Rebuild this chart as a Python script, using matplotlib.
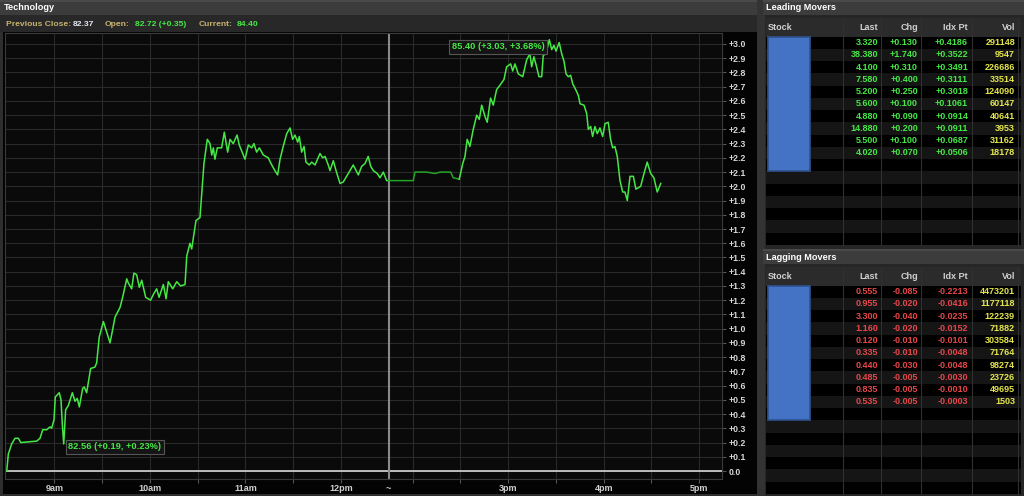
import matplotlib
matplotlib.use('Agg')
import matplotlib.pyplot as plt
from matplotlib.patches import Rectangle
import numpy as np

plt.rcParams['font.family'] = ['Liberation Sans', 'DejaVu Sans']
plt.rcParams['font.weight'] = 'bold'

# ---- data ----
prev_close = 82.37
open_price = 82.72
current = 84.40
hi_price = 85.40
lo_price = 82.56

# x = minutes since 8:30 on a compressed axis (12:30-1:45 is cut out)
morning_t = [0, 1.0, 3.1, 5.2, 7.3, 8.8, 18.8, 20.9, 22.6, 25.1, 27.2, 28.2, 29.7, 30.5, 33.0,
             34.1, 34.9, 35.8, 37.0, 38.7, 41.2, 42.9, 44.3, 45.6, 47.7, 48.7, 50.2, 52.7, 55.4,
             56.5, 58.1, 60.7, 62.4, 64.9, 66.3, 68.0, 71.2, 72.8, 75.4, 76.4, 78.5, 79.9, 81.6,
             83.3, 84.8, 87.3, 90.4, 92.1, 94.2, 95.7, 98.4, 100.1, 101.5, 104.3, 106.8, 109.3,
             112.0, 113.1, 115.1, 116.2, 118.9, 121.4, 123.9, 126.0, 127.7, 128.8, 129.8, 130.8,
             132.3, 135.0, 136.7, 138.8, 140.3, 142.3, 144.7, 146.1, 149.7, 151.8, 153.9, 155.3,
             157.0, 158.7, 161.2, 164.3, 166.5, 168.5, 170.2, 171.7, 173.7, 175.9, 178.0, 179.6,
             181.1, 182.8, 183.8, 185.3, 186.8, 188.0, 190.1, 191.6, 193.7, 196.8, 198.5, 200.0,
             202.0, 203.1, 205.2, 206.9, 209.4, 211.4, 214.6, 217.7, 220.9, 223.0, 225.1, 227.1,
             228.7, 230.3, 232.8, 234.5, 236.6, 238.7, 240.0]
morning_v = [0.00, 0.12, 0.19, 0.23, 0.23, 0.20, 0.21, 0.23, 0.29, 0.29, 0.31, 0.30, 0.36, 0.52, 0.55,
             0.50, 0.33, 0.19, 0.43, 0.46, 0.55, 0.49, 0.51, 0.45, 0.58, 0.59, 0.55, 0.72, 0.73,
             0.76, 0.94, 1.05, 0.99, 0.90, 0.98, 1.08, 1.15, 1.22, 1.35, 1.32, 1.28, 1.39, 1.38,
             1.29, 1.34, 1.22, 1.20, 1.24, 1.28, 1.22, 1.31, 1.21, 1.33, 1.28, 1.33, 1.30,
             1.31, 1.51, 1.60, 1.56, 1.76, 1.78, 2.16, 2.33, 2.30, 2.22, 2.27, 2.19,
             2.27, 2.27, 2.38, 2.24, 2.33, 2.30, 2.36, 2.29, 2.19, 2.29, 2.27, 2.30,
             2.24, 2.27, 2.22, 2.20, 2.15, 2.11, 2.08, 2.19, 2.28, 2.37, 2.41, 2.33,
             2.36, 2.31, 2.35, 2.24, 2.28, 2.17, 2.15, 2.17, 2.15, 2.23, 2.20, 2.21,
             2.15, 2.11, 2.18, 2.11, 2.02, 2.03, 2.09, 2.15, 2.08, 2.14, 2.16, 2.21,
             2.14, 2.11, 2.09, 2.06, 2.10, 2.04, 2.04]

lunch_t = [240.0, 255.4, 256.5, 259.6, 263.8, 269.1, 272.2, 278.9, 280.5, 284.3]
lunch_v = [2.04, 2.04, 2.10, 2.10, 2.10, 2.09, 2.10, 2.10, 2.06, 2.05]

after_t = [284.3, 286.5, 287.9, 289.3, 291.0, 293.1, 295.3, 296.9, 298.4, 300.5, 301.9, 304.0, 305.7,
           307.8, 309.9, 312.4, 314.1, 316.6, 317.9, 319.3, 321.4, 324.2, 326.7, 328.7, 329.8,
           331.2, 332.9, 334.4, 336.1, 337.1, 338.8, 340.9, 342.4, 343.8, 345.1, 347.1, 348.7,
           350.1, 351.4, 352.8, 354.3, 355.6, 357.0, 359.1, 360.2, 362.7, 364.4, 365.4, 366.9,
           368.1, 369.6, 371.0, 372.7, 374.4, 375.9, 377.9, 379.4, 380.7, 382.1, 383.6, 385.3,
           387.0, 388.4, 389.9, 391.6, 393.7, 395.3, 396.8, 398.3, 399.9, 402.4, 404.6, 406.6,
           408.7, 410.9]
after_v = [2.05, 2.16, 2.21, 2.33, 2.28, 2.40, 2.50, 2.47, 2.57, 2.49, 2.45, 2.62, 2.57,
           2.68, 2.71, 2.75, 2.84, 2.86, 2.81, 2.86, 2.79, 2.77, 2.89, 2.93, 2.84,
           2.91, 2.84, 2.77, 2.77, 2.92, 2.93, 3.03, 2.96, 2.99, 2.95, 3.01, 2.93,
           2.88, 2.79, 2.77, 2.78, 2.72, 2.69, 2.64, 2.58, 2.57, 2.51, 2.40, 2.42,
           2.35, 2.42, 2.37, 2.41, 2.35, 2.44, 2.45, 2.33, 2.27, 2.28, 2.21, 2.04,
           1.96, 1.96, 1.90, 2.07, 2.07, 1.98, 1.99, 2.00, 2.07, 2.17, 2.09, 2.06,
           1.96, 2.02]

grid_x = [30, 60, 90, 120, 150, 180, 210, 255, 285, 315, 345, 375, 405, 435]
label_x = [30, 90, 150, 210, 240, 315, 375, 435]
label_txt = ['9am', '10am', '11am', '12pm', '~', '3pm', '4pm', '5pm']

headers = ['Stock', 'Last', 'Chg', 'Idx Pt', 'Vol']
lead_last = [3.320, 38.380, 4.100, 7.580, 5.200, 5.600, 4.880, 14.880, 5.500, 4.020]
lead_chg = [0.130, 1.740, 0.310, 0.400, 0.250, 0.100, 0.090, 0.200, 0.100, 0.070]
lead_idx = [0.4186, 0.3522, 0.3491, 0.3111, 0.3018, 0.1061, 0.0914, 0.0911, 0.0687, 0.0506]
lead_vol = [291148, 9547, 226686, 33514, 124090, 60147, 40641, 3953, 31162, 18178]
lag_last = [0.555, 0.955, 3.300, 1.160, 0.120, 0.335, 0.440, 0.485, 0.835, 0.535]
lag_chg = [-0.085, -0.020, -0.040, -0.020, -0.010, -0.010, -0.030, -0.005, -0.005, -0.005]
lag_idx = [-0.2213, -0.0416, -0.0235, -0.0152, -0.0101, -0.0048, -0.0048, -0.0030, -0.0010, -0.0003]
lag_vol = [4473201, 1177118, 122239, 71882, 303584, 71764, 98274, 23726, 49695, 1503]

# ---- colours ----
GREEN = '#45e845'
DKGREEN = '#24a324'
RED = '#e8474a'
YELLOW = '#e4e64c'
TAN = '#c9b36f'
FS = 6.5

W, H = 1024, 496
fig = plt.figure(figsize=(W / 100, H / 100), dpi=100, facecolor='#202020')
bg = fig.add_axes([0, 0, 1, 1])
bg.set_xlim(0, W)
bg.set_ylim(H, 0)
bg.axis('off')


def box(x0, y0, x1, y1, color, **kw):
    bg.add_patch(Rectangle((x0, y0), x1 - x0, y1 - y0, facecolor=color, edgecolor='none', **kw))


# left panel
box(0, 0, 758, 496, '#2e2e2e')
box(0, 0, 758, 15, '#3c3c3c')
box(0, 0, 758, 2, '#4a4a4a')
box(0, 15, 758, 32, '#282828')
box(3, 32, 757, 494, '#030303')
bg.text(4, 7.5, 'Technology', color='white', fontsize=6.6, va='center')

info = [(5.5, 'Previous Close:', TAN), (73, f'{prev_close:.2f}', '#e2e8ef'),
        (105, 'Open:', TAN), (135, f'{open_price:.2f} ({open_price - prev_close:+.2f})', GREEN),
        (199, 'Current:', TAN), (237, f'{current:.2f}', GREEN)]
for x, s, c in info:
    bg.text(x, 24.5, s, color=c, fontsize=6.1, va='center')

# divider + right panel
box(757, 0, 765, 496, '#333333')
box(765, 0, 1024, 496, '#262626')


def table(y_title, title, last, chg, idx, vol, col):
    box(763, y_title, 1024, y_title + 15, '#3c3c3c')
    box(763, y_title, 1024, y_title + 2, '#4a4a4a')
    bg.text(766, y_title + 8, title, color='white', fontsize=6.6, va='center')
    hy0 = y_title + 18
    hy1 = hy0 + 18.5
    rh = 12.25
    box(766, hy0, 1021, hy1, '#2b2b2b')
    for i in range(17):
        y0 = hy1 + i * rh
        box(766, y0, 1021, y0 + rh, '#000000' if i % 2 == 0 else '#151515')
    for x in [843, 881, 921, 972, 1018]:
        bg.plot([x, x], [hy0, hy1 + 17 * rh], color='#303030', lw=0.8)
    bg.add_patch(Rectangle((767.5, hy1 + 0.5), 42.5, 11 * rh - 1, facecolor='#4472c4',
                           edgecolor='#2f528f', lw=1.2))
    hc = (hy0 + hy1) / 2
    bg.text(768, hc, headers[0], color='#d0d0d0', fontsize=FS, va='center')
    for x, h in zip([878, 918, 968, 1015], headers[1:]):
        bg.text(x, hc, h, color='#d0d0d0', fontsize=FS, va='center', ha='right')
    for i in range(len(last)):
        yc = hy1 + (i + 0.5) * rh
        bg.text(878, yc, f'{last[i]:.3f}', color=col, fontsize=FS, va='center', ha='right')
        bg.text(918, yc, f'{chg[i]:+.3f}', color=col, fontsize=FS, va='center', ha='right')
        bg.text(968, yc, f'{idx[i]:+.4f}', color=col, fontsize=FS, va='center', ha='right')
        bg.text(1015, yc, f'{vol[i]}', color=YELLOW, fontsize=FS, va='center', ha='right')


table(0, 'Leading Movers', lead_last, lead_chg, lead_idx, lead_vol, GREEN)
table(249, 'Lagging Movers', lag_last, lag_chg, lag_idx, lag_vol, RED)

# ---- price chart ----
ax = fig.add_axes([5 / W, 1 - 478.7 / H, (722 - 5) / W, (478.7 - 33) / H])
ax.set_facecolor('#0a0a0a')
ax.set_xlim(-1.1, 449.4)
ax.set_ylim(-0.054, 3.077)

yt = np.round(np.arange(0, 3.05, 0.1), 1)
ax.set_yticks(yt)
ax.set_yticklabels(['0.0' if v == 0 else f'+{v:.1f}' for v in yt])
ax.yaxis.tick_right()
ax.set_xticks(grid_x)
ax.set_xticklabels([])
ax.grid(True, color='#2a2a2a', lw=0.8)
ax.tick_params(axis='y', colors='#555555', labelcolor='#d6d6d6', labelsize=6.3, length=3, pad=2)
ax.tick_params(axis='x', colors='#555555', length=3)
for s in ax.spines.values():
    s.set_color('#3a3a3a')
    s.set_linewidth(0.8)

for x, s in zip(label_x, label_txt):
    ax.text(x, -0.125, s, color='#d0d0d0', fontsize=6.5, ha='center', va='center', clip_on=False)

ax.axhline(0, color='#d8d8d8', lw=1.2, zorder=2)
ax.axvline(240, color='#8a8a8a', lw=1.5, zorder=2)

ax.plot(morning_t, morning_v, color=GREEN, lw=1.1, zorder=3)
ax.plot(lunch_t, lunch_v, color=DKGREEN, lw=1.1, zorder=3)
ax.plot(after_t, after_v, color=GREEN, lw=1.1, zorder=3)

box_style = dict(boxstyle='square,pad=0.25', fc='#151515', ec='#555555', lw=0.8)
hi_chg = hi_price - prev_close
lo_chg = lo_price - prev_close
ax.text(337.8, 2.98, f'{hi_price:.2f} ({hi_chg:+.2f}, {hi_chg / prev_close * 100:+.2f}%)',
        color=GREEN, fontsize=6.7, ha='right', va='center', bbox=box_style, zorder=4)
ax.text(38.6, 0.17, f'{lo_price:.2f} ({lo_chg:+.2f}, {lo_chg / prev_close * 100:+.2f}%)',
        color=GREEN, fontsize=6.7, ha='left', va='center', bbox=box_style, zorder=4)

fig.savefig('out.png', dpi=100, facecolor=fig.get_facecolor())
